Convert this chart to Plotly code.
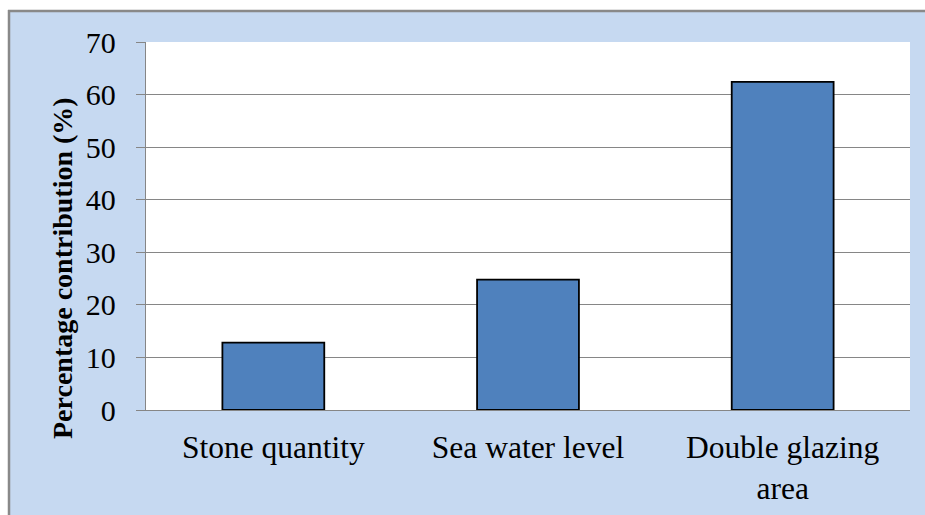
import plotly.graph_objects as go

# Factor contributions
categories = ["Stone quantity", "Sea water level", "Double glazing<br>area"]
contribution = [12.8, 24.8, 62.4]
y_ticks = [0, 10, 20, 30, 40, 50, 60, 70]

W, H = 925, 515
L, R, T, B = 146, 15, 42, 105
pw, ph = W - L - R, H - T - B

def px_x(x):
    return (x - L) / pw

def px_y(y):
    return (H - B - y) / ph

FONT = "Liberation Serif, Times New Roman, serif"
GRID = "#868686"

fig = go.Figure(
    go.Bar(
        x=categories,
        y=contribution,
        marker=dict(color="#4F81BD", line=dict(color="#000000", width=1.8)),
    )
)

fig.update_layout(
    width=W,
    height=H,
    margin=dict(l=L, r=R, t=T, b=B),
    paper_bgcolor="#C6D9F1",
    plot_bgcolor="white",
    bargap=0.6,
    showlegend=False,
    font=dict(family=FONT, size=30, color="#000000"),
    shapes=[
        # white strips outside the chart frame
        dict(type="rect", xref="paper", yref="paper",
             x0=px_x(0), x1=px_x(8), y0=px_y(H), y1=px_y(0),
             fillcolor="white", line=dict(width=0), layer="below"),
        dict(type="rect", xref="paper", yref="paper",
             x0=px_x(0), x1=px_x(W), y0=px_y(10), y1=px_y(0),
             fillcolor="white", line=dict(width=0), layer="below"),
        # frame edges
        dict(type="line", xref="paper", yref="paper",
             x0=px_x(8), x1=px_x(W), y0=px_y(11), y1=px_y(11),
             line=dict(color="#898989", width=2.5), layer="below"),
        dict(type="line", xref="paper", yref="paper",
             x0=px_x(9), x1=px_x(9), y0=px_y(10), y1=px_y(H),
             line=dict(color="#898989", width=2.5), layer="below"),
    ],
    annotations=[
        dict(text="<b>Percentage contribution (%)</b>", xref="paper", yref="paper",
             x=px_x(62), y=px_y(268), textangle=-90, showarrow=False,
             font=dict(family=FONT, size=28, color="#000000"),
             xanchor="center", yanchor="middle"),
    ],
)

fig.update_yaxes(
    range=[0, 70],
    tickvals=y_ticks,
    ticktext=[str(v) for v in y_ticks],
    showgrid=True, gridcolor=GRID, gridwidth=1.3,
    showline=True, linecolor=GRID, linewidth=1.3,
    ticks="outside", ticklen=9, tickcolor=GRID, tickwidth=1.3,
    ticklabelstandoff=14,
    zeroline=False,
    automargin=False,
    tickfont=dict(family=FONT, size=30, color="#000000"),
)
fig.update_xaxes(
    showline=True, linecolor=GRID, linewidth=1.3,
    ticks="", showgrid=False,
    automargin=False,
    tickfont=dict(family=FONT, size=31.5, color="#000000"),
    ticklabelstandoff=9,
)

fig.write_html("out.html")
